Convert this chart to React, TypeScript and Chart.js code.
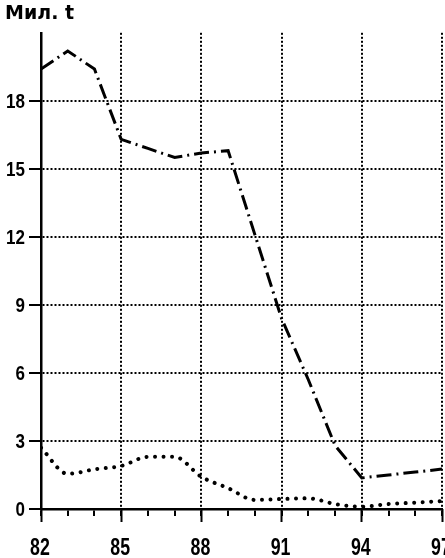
import { useEffect, useRef } from 'react';
import { Chart, registerables } from 'chart.js';

Chart.register(...registerables);

const YEARS = [82, 83, 84, 85, 86, 87, 88, 89, 90, 91, 92, 93, 94, 95, 96, 97];
const MAJOR_YEARS = [82, 85, 88, 91, 94, 97];
const Y_TICKS = [0, 3, 6, 9, 12, 15, 18];
// dash-dot series
const SERIES_A = [19.4, 20.2, 19.4, 16.3, 15.9, 15.5, 15.7, 15.8, 12.1, 8.4, 5.7, 2.8, 1.37, 1.5, 1.63, 1.76];
// dotted series
const SERIES_B = [2.7, 1.55, 1.75, 1.9, 2.3, 2.3, 1.42, 0.92, 0.4, 0.44, 0.47, 0.22, 0.1, 0.22, 0.28, 0.35];
const UNIT_TITLE = 'Мил. t';

const LABEL_FAMILY = '"Liberation Sans", Arial, Helvetica, sans-serif';

// Draws condensed bold tick labels (real text) at the scales' tick positions.
const condensedLabels = {
  id: 'condensedLabels',
  afterDraw(chart: any) {
    const ctx = chart.ctx as CanvasRenderingContext2D;
    const xs = chart.scales.x;
    const ys = chart.scales.y;
    ctx.save();
    ctx.fillStyle = '#000';
    ctx.textBaseline = 'alphabetic';

    ctx.font = `bold 24px ${LABEL_FAMILY}`;
    ctx.textAlign = 'center';
    const xBase = xs.top + 46;
    MAJOR_YEARS.forEach((v) => {
      const px = xs.getPixelForValue(v);
      ctx.save();
      ctx.translate(px - 1, xBase);
      ctx.scale(0.74, 1);
      ctx.fillText(String(v), 0, 0);
      ctx.restore();
    });

    ctx.font = `bold 20px ${LABEL_FAMILY}`;
    ctx.textAlign = 'right';
    const xRight = ys.right - 16;
    Y_TICKS.forEach((v) => {
      const py = ys.getPixelForValue(v);
      ctx.save();
      ctx.translate(xRight, py + 7.2);
      ctx.scale(0.85, 1);
      ctx.fillText(String(v), 0, 0);
      ctx.restore();
    });
    ctx.restore();
  },
};

export default function App() {
  const ref = useRef<HTMLCanvasElement | null>(null);

  useEffect(() => {
    if (!ref.current) return;
    const chart = new Chart(ref.current, {
      type: 'line',
      data: {
        datasets: [
          {
            data: YEARS.map((x, i) => ({ x, y: SERIES_A[i] })),
            borderColor: '#000',
            borderWidth: 3,
            borderDash: [15, 5, 2, 5],
            pointRadius: 0,
            tension: 0,
            fill: false,
          },
          {
            data: YEARS.map((x, i) => ({ x, y: SERIES_B[i] })),
            borderColor: '#000',
            borderWidth: 4,
            borderDash: [0.01, 8.5],
            borderCapStyle: 'round',
            pointRadius: 0,
            cubicInterpolationMode: 'monotone',
            fill: false,
          },
        ],
      },
      options: {
        responsive: false,
        animation: false,
        devicePixelRatio: 1,
        layout: { padding: { left: 5, right: 3, top: 0, bottom: 0 } },
        plugins: {
          legend: { display: false },
          tooltip: { enabled: false },
          title: {
            display: true,
            text: UNIT_TITLE,
            align: 'start',
            color: '#000',
            font: { family: '"DejaVu Sans", sans-serif', size: 19, weight: 'bold', lineHeight: 1.2 },
            padding: { top: 3, bottom: 7 },
          },
        },
        scales: {
          x: {
            type: 'linear',
            position: 'bottom',
            min: 82,
            max: 97,
            afterBuildTicks: (axis: any) => {
              axis.ticks = YEARS.map((v) => ({ value: v }));
            },
            afterFit: (axis: any) => {
              axis.height = 49;
              axis.paddingLeft = 0;
              axis.paddingRight = 0;
            },
            grid: {
              color: (c: any) => (c.tick && MAJOR_YEARS.includes(c.tick.value) ? '#000' : 'rgba(0,0,0,0)'),
              lineWidth: 2,
              tickLength: 7,
              tickWidth: 2,
              tickColor: '#000',
              tickBorderDash: [],
            },
            border: { display: true, color: '#000', width: 2.5, dash: [2, 2] },
            ticks: { display: false, autoSkip: false },
          },
          xMajor: {
            type: 'linear',
            axis: 'x',
            position: { y: 0 },
            min: 82,
            max: 97,
            afterBuildTicks: (axis: any) => {
              axis.ticks = MAJOR_YEARS.map((v) => ({ value: v }));
            },
            grid: {
              drawOnChartArea: false,
              tickLength: 13,
              tickWidth: 2,
              tickColor: '#000',
              tickBorderDash: [],
            },
            border: { display: false },
            ticks: { display: false },
          },
          y: {
            min: 0,
            max: 21,
            afterBuildTicks: (axis: any) => {
              axis.ticks = Y_TICKS.map((v) => ({ value: v }));
            },
            afterFit: (axis: any) => {
              axis.width = 36;
              axis.paddingTop = 0;
              axis.paddingBottom = 0;
            },
            grid: {
              color: (c: any) => (c.tick && c.tick.value === 0 ? 'rgba(0,0,0,0)' : '#000'),
              lineWidth: 2,
              tickLength: 12,
              tickWidth: 2,
              tickColor: '#000',
              tickBorderDash: [],
            },
            border: { display: true, color: '#000', width: 2.5, dash: [2, 2] },
            ticks: { display: false, autoSkip: false },
          },
        },
      } as any,
      plugins: [condensedLabels],
    });
    return () => chart.destroy();
  }, []);

  return (
    <div style={{ position: 'absolute', left: 0, top: 0, width: 445, height: 558 }}>
      <canvas ref={ref} width={445} height={558} />
    </div>
  );
}
